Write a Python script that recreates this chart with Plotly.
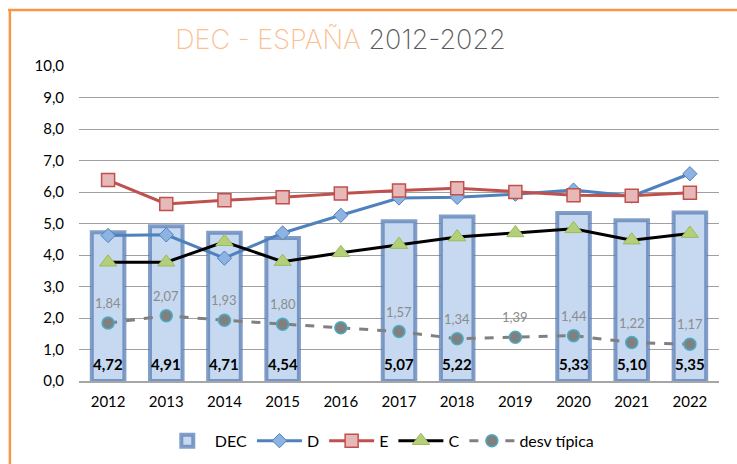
import plotly.graph_objects as go

years = ["2012", "2013", "2014", "2015", "2016", "2017", "2018", "2019", "2020", "2021", "2022"]
dec = [4.72, 4.91, 4.71, 4.54, None, 5.07, 5.22, None, 5.33, 5.10, 5.35]
d_vals = [4.62, 4.64, 3.90, 4.70, 5.26, 5.81, 5.83, 5.93, 6.06, 5.87, 6.58]
e_vals = [6.38, 5.62, 5.74, 5.83, 5.95, 6.05, 6.12, 6.00, 5.90, 5.88, 5.98]
c_vals = [3.77, 3.77, 4.42, 3.79, 4.07, 4.33, 4.57, 4.70, 4.83, 4.47, 4.68]
desv = [1.84, 2.07, 1.93, 1.80, 1.69, 1.57, 1.34, 1.39, 1.44, 1.22, 1.17]
desv_labels = ["1,84", "2,07", "1,93", "1,80", None, "1,57", "1,34", "1,39", "1,44", "1,22", "1,17"]

font = "Lato"

fig = go.Figure()

fig.add_trace(go.Bar(
    x=years, y=dec, name="DEC", width=0.56,
    marker=dict(color="#C6D9F1", line=dict(color="rgba(90,125,180,0.75)", width=4)),
))
fig.add_trace(go.Scatter(
    x=years, y=d_vals, name="D", mode="lines+markers",
    line=dict(color="#4F81BD", width=3),
    marker=dict(symbol="diamond", size=11, color="#8DB3E2", line=dict(color="#4F81BD", width=1)),
))
fig.add_trace(go.Scatter(
    x=years, y=e_vals, name="E", mode="lines+markers",
    line=dict(color="#C0504D", width=3),
    marker=dict(symbol="square", size=13, color="#E6B9B8", line=dict(color="#C0504D", width=1.5)),
))
fig.add_trace(go.Scatter(
    x=years, y=c_vals, name="C", mode="lines+markers",
    line=dict(color="#000000", width=3),
    marker=dict(symbol="triangle-up", size=15, color="#B3CF7A", line=dict(color="#9BBB59", width=1)),
))
fig.add_trace(go.Scatter(
    x=years, y=desv, name="desv típica", mode="lines+markers",
    line=dict(color="#808080", width=3, dash="dash"),
    marker=dict(symbol="circle", size=12, color="#808080", line=dict(color="#4BACC6", width=1.5)),
))

# DEC labels at the base of the bars (x given as category index)
for i, v in enumerate(dec):
    if v is None:
        continue
    fig.add_annotation(x=i, y=0, yshift=17, showarrow=False,
                       text="<b>" + f"{v:.2f}".replace(".", ",") + "</b>",
                       font=dict(family=font, size=15, color="#000000"))

# desv típica labels above the points
for i, (v, lab) in enumerate(zip(desv, desv_labels)):
    if lab is None:
        continue
    fig.add_annotation(x=i, y=v, yshift=20, showarrow=False, text=lab,
                       font=dict(family=font, size=13, color="#8C8C8C"))

# orange frame (left and top)
fig.add_shape(type="line", xref="paper", yref="paper", x0=-0.108, x1=-0.108, y0=1.178, y1=-0.35,
              line=dict(color="#F79646", width=2.5))
fig.add_shape(type="line", xref="paper", yref="paper", x0=-0.111, x1=1.1, y0=1.178, y1=1.178,
              line=dict(color="#F79646", width=2.5))

fig.update_layout(
    width=737, height=464,
    margin=dict(l=79, r=18, t=66, b=83),
    paper_bgcolor="white", plot_bgcolor="white",
    separators=",.",
    font=dict(family=font, size=15, color="#000000"),
    title=dict(
        text="<span style='color:#FAC090'>DEC - ESPAÑA</span> 2012-2022",
        x=0.462, xanchor="center", y=0.915, yanchor="middle",
        font=dict(family="Inter", size=27, color="#595959", weight=200),
    ),
    showlegend=True,
    legend=dict(orientation="h", x=0.47, xanchor="center", yref="container", y=0.05,
                yanchor="middle", font=dict(family=font, size=16), itemwidth=45,
                tracegroupgap=0),
    bargap=0.44,
)
fig.update_xaxes(type="category", range=[-0.5, 10.5], showline=True, linecolor="#A6A6A6",
                 linewidth=1.5, ticks="", tickfont=dict(size=15), showgrid=False,
                 ticklabelstandoff=6)
fig.update_yaxes(range=[0, 10], dtick=1, tickformat=".1f", showgrid=True,
                 gridcolor="#A0A0A0", gridwidth=1.2, zeroline=False, ticks="",
                 tickfont=dict(size=15), ticklabelstandoff=14)

fig.write_html("out.html", config={"displayModeBar": False},
               post_script="document.body.style.margin='0';")
